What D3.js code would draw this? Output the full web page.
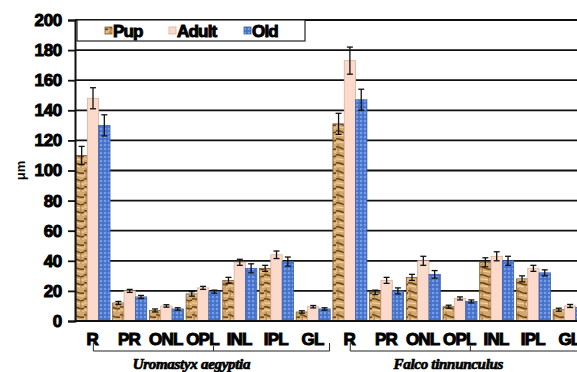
<!DOCTYPE html>
<html><head><meta charset="utf-8">
<script src="https://cdn.jsdelivr.net/npm/d3@7"></script>
<style>body{margin:0;background:#fff}svg{display:block}</style>
</head><body>
<script>
const categories = ["R","PR","ONL","OPL","INL","IPL","GL","R","PR","ONL","OPL","INL","IPL","GL"];
const seriesNames = ["Pup","Adult","Old"];
const pup   = [110,12,7,18,27,35,6,131,19,29,9.5,39,28,7.5];
const adult = [148,20,10,22,39,44,9.5,173,27,40,15,43,35,10];
const old   = [130,16,8,19.5,35,39.5,8,147,20,31,13,40,32,9];
const pupErr   = [6,1,1,1.5,2,2,0.8,7,1.5,2,1,3,2,1];
const adultErr = [7,1,0.8,1,2,2.5,0.8,9,2,3,1,3,2,1];
const oldErr   = [7,1,0.8,1,3,3,0.8,7,2,2.5,1,3,2,1];
const yTicks = [0,20,40,60,80,100,120,140,160,180,200];
const species = ["Uromastyx aegyptia","Falco tinnunculus"];
const yLabel = "μm";

const W=577,H=372;
const svg=d3.select("body").append("svg").attr("width",W).attr("height",H);
const defs=svg.append("defs");
const SANS="'Liberation Sans Narrow', 'Liberation Sans', Arial, sans-serif";
// wood pattern
const wp=defs.append("pattern").attr("id","wood").attr("patternUnits","userSpaceOnUse").attr("width",12).attr("height",24);
wp.append("rect").attr("width",12).attr("height",24).attr("fill","#d2a86c");
wp.append("path").attr("d","M0,3 C3,1 5,7 12,5 M0,11 C5,9 6,15 12,12 M0,19 C4,17 8,23 12,20").attr("stroke","#6a3a16").attr("stroke-width",1.5).attr("fill","none");
wp.append("path").attr("d","M0,7 C4,6 8,9 12,8 M0,15 C3,14 8,17 12,16 M0,22 C4,21 7,24 12,23").attr("stroke","#f0d49c").attr("stroke-width",1.2).attr("fill","none");
wp.append("path").attr("d","M2,0 C3,4 1,8 3,12 M9,12 C8,16 10,20 9,24").attr("stroke","#9a6a36").attr("stroke-width",0.8).attr("fill","none");
// dots pattern
const dp=defs.append("pattern").attr("id","dots").attr("patternUnits","userSpaceOnUse").attr("width",4).attr("height",4);
dp.append("rect").attr("width",4).attr("height",4).attr("fill","#4a78d2");
dp.append("circle").attr("cx",1).attr("cy",1).attr("r",0.7).attr("fill","#cfe0ff");
dp.append("circle").attr("cx",3).attr("cy",3).attr("r",0.5).attr("fill","#2a4fa0");

const x0=d3.scaleBand().domain(d3.range(categories.length)).range([75,75+14*36.7]).padding(0);
const x1=d3.scaleBand().domain(seriesNames).range([1,35]).padding(0);
const y=d3.scaleLinear().domain([0,200]).range([321,20]);

const fills={Pup:"url(#wood)",Adult:"#fbdacb",Old:"url(#dots)"};
const strokes={Pup:"#7a5a30",Adult:"#d9b09a",Old:"#3a5fa8"};
const vals={Pup:pup,Adult:adult,Old:old};
const errs={Pup:pupErr,Adult:adultErr,Old:oldErr};

function heavy(sel,size,ls){
  sel.attr("font-family",SANS).attr("font-weight","bold").attr("font-size",size)
   .style("font-family",SANS).style("font-weight","bold")
   .attr("fill","#000").attr("stroke","#000").attr("stroke-width",1).attr("letter-spacing",ls);
}

// gridlines
svg.append("g").selectAll("line").data(yTicks.filter(d=>d>0)).join("line")
 .attr("x1",75).attr("x2",W).attr("y1",d=>y(d)).attr("y2",d=>y(d))
 .attr("stroke","#111").attr("stroke-width",1.8);

// bars
seriesNames.forEach(s=>{
  const g=svg.append("g");
  g.selectAll("rect").data(vals[s]).join("rect")
   .attr("x",(d,i)=>x0(i)+x1(s)).attr("width",x1.bandwidth())
   .attr("y",d=>y(d)).attr("height",d=>y(0)-y(d))
   .attr("fill",fills[s]).attr("stroke",strokes[s]).attr("stroke-width",0.8);
});
// error bars
seriesNames.forEach(s=>{
  const g=svg.append("g").attr("stroke","#111").attr("stroke-width",1.3);
  vals[s].forEach((v,i)=>{
    const cx=x0(i)+x1(s)+x1.bandwidth()/2;
    const e=errs[s][i];
    g.append("line").attr("x1",cx).attr("x2",cx).attr("y1",y(v+e)).attr("y2",y(v-e));
    g.append("line").attr("x1",cx-3).attr("x2",cx+3).attr("y1",y(v+e)).attr("y2",y(v+e));
    g.append("line").attr("x1",cx-3).attr("x2",cx+3).attr("y1",y(v-e)).attr("y2",y(v-e));
  });
});

// axes
const yAxis=d3.axisLeft(y).tickValues(yTicks).tickSize(7).tickPadding(6);
const ya=svg.append("g").attr("transform","translate(75,0)").call(yAxis);
ya.attr("font-family",null).attr("font-size",null);
ya.select(".domain").attr("stroke","#111").attr("stroke-width",2);
ya.selectAll(".tick line").attr("stroke","#111").attr("stroke-width",1.8);
heavy(ya.selectAll("text"),17,-0.3);
svg.append("line").attr("x1",75).attr("x2",W).attr("y1",y(0)).attr("y2",y(0)).attr("stroke","#111").attr("stroke-width",2);

svg.append("text").attr("transform",`translate(25,${y(100)}) rotate(-90)`).attr("text-anchor","middle")
 .attr("font-family","Liberation Sans, Arial, sans-serif").attr("font-size",13).attr("font-weight","bold").text(yLabel);

// category labels
heavy(svg.append("g").selectAll("text").data(categories).join("text")
 .attr("x",(d,i)=>x0(i)+x0.bandwidth()/2-1).attr("y",345).attr("text-anchor","middle")
 .text(d=>d),17,-0.8);

// brackets
species.forEach((sp,k)=>{
  const a=x0(k*7)+x0.bandwidth()/2, b=x0(k*7+6)+x0.bandwidth()/2+16, m=x0(k*7+3)+x0.bandwidth()/2+10;
  svg.append("path").attr("d",`M${a},343 V351 H${b} V343 M${m},351 V346`).attr("fill","none").attr("stroke","#222").attr("stroke-width",1);
  svg.append("text").attr("x",m-22).attr("y",369).attr("text-anchor","middle")
   .attr("font-family","Liberation Serif, Times New Roman, serif").attr("font-style","italic").attr("font-weight","bold").attr("font-size",15)
   .attr("stroke","#000").attr("stroke-width",0.7).attr("letter-spacing",-0.3)
   .text(sp);
});

// legend
const lg=svg.append("g");
lg.append("rect").attr("x",77).attr("y",20).attr("width",228).attr("height",21).attr("fill","#fff").attr("stroke","#222").attr("stroke-width",1.2);
const lx=[105,169,244];
seriesNames.forEach((s,i)=>{
  lg.append("rect").attr("x",lx[i]).attr("y",27).attr("width",7).attr("height",7).attr("fill",fills[s]).attr("stroke",strokes[s]).attr("stroke-width",0.8);
  heavy(lg.append("text").attr("x",lx[i]+8).attr("y",36.5).text(s),17,-0.8);
});
</script>
</body></html>
